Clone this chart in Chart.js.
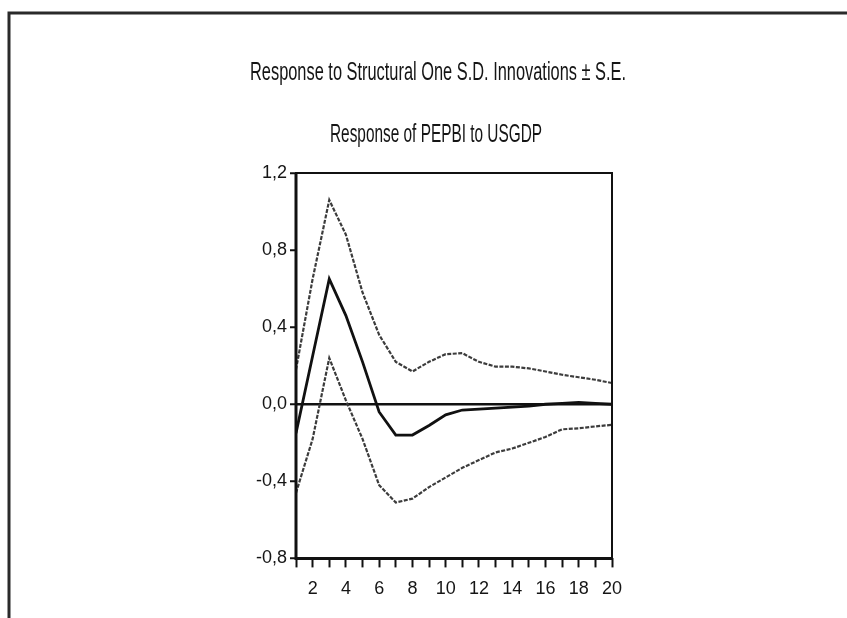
<!DOCTYPE html>
<html>
<head>
<meta charset="utf-8">
<script src="https://cdn.jsdelivr.net/npm/chart.js@4/dist/chart.umd.min.js"></script>
<style>
  html, body { margin: 0; padding: 0; background: #fff; }
  #wrap { width: 847px; height: 618px; }
</style>
</head>
<body>
<div id="wrap"><canvas id="irf"></canvas></div>
<script>
// Impulse response of PEPBI to a USGDP shock, with +/- 1 S.E. bands
const periods = [1, 2, 3, 4, 5, 6, 7, 8, 9, 10, 11, 12, 13, 14, 15, 16, 17, 18, 19, 20];
const response = [-0.15, 0.25, 0.65, 0.46, 0.22, -0.04, -0.16, -0.16, -0.11, -0.055, -0.03, -0.025, -0.02, -0.015, -0.01, 0.0, 0.005, 0.01, 0.005, 0.0];
const upperBand = [0.18, 0.65, 1.06, 0.88, 0.58, 0.36, 0.22, 0.17, 0.22, 0.26, 0.265, 0.22, 0.195, 0.195, 0.186, 0.17, 0.153, 0.14, 0.127, 0.11];
const lowerBand = [-0.46, -0.18, 0.24, 0.02, -0.18, -0.42, -0.51, -0.49, -0.43, -0.38, -0.33, -0.29, -0.25, -0.23, -0.20, -0.17, -0.13, -0.125, -0.115, -0.107];
const yTicks = [-0.8, -0.4, 0.0, 0.4, 0.8, 1.2];

const mainTitle = 'Response to Structural One S.D. Innovations \u00b1 S.E.';
const subTitle = 'Response of PEPBI to USGDP';

const FONT = "'Liberation Sans', Arial, sans-serif";
Chart.defaults.font.family = FONT;

const toPts = (vals) => periods.map((p, i) => ({ x: p, y: vals[i] }));

// page frame, the two headings (squeezed like the original) and the plot box
const framePlugin = {
    id: 'frame',
    beforeDraw(chart) {
        const c = chart.ctx;
        c.save();
        c.fillStyle = '#fff';
        c.fillRect(0, 0, chart.width, chart.height);
        c.strokeStyle = '#2a2a2a';
        c.lineWidth = 3;
        c.beginPath();
        c.moveTo(9, chart.height);
        c.lineTo(9, 13);
        c.lineTo(chart.width, 13);
        c.stroke();

        c.fillStyle = '#151515';
        c.font = '25px ' + FONT;
        c.textAlign = 'center';
        c.textBaseline = 'alphabetic';
        c.fillText(mainTitle, 438, 80, 376);
        c.fillText(subTitle, 436, 142, 212);
        c.restore();
    },
    afterDatasetsDraw(chart) {
        const a = chart.chartArea;
        const c = chart.ctx;
        c.save();
        c.strokeStyle = '#111';
        c.lineWidth = 2;
        c.strokeRect(a.left, a.top, a.right - a.left, a.bottom - a.top);
        c.lineWidth = 3;
        c.beginPath();
        c.moveTo(a.left, a.top);
        c.lineTo(a.left, a.bottom);
        c.lineTo(a.right, a.bottom);
        c.stroke();
        c.restore();
    }
};

const ctx = document.getElementById('irf').getContext('2d');
new Chart(ctx, {
    type: 'line',
    data: {
        datasets: [
            {
                label: 'Response',
                data: toPts(response),
                borderColor: '#111',
                borderWidth: 2.8,
                pointRadius: 0,
                tension: 0
            },
            {
                label: '+ S.E.',
                data: toPts(upperBand),
                borderColor: '#3c3c3c',
                borderWidth: 2.2,
                borderDash: [4, 1.5],
                pointRadius: 0,
                tension: 0
            },
            {
                label: '- S.E.',
                data: toPts(lowerBand),
                borderColor: '#3c3c3c',
                borderWidth: 2.2,
                borderDash: [4, 1.5],
                pointRadius: 0,
                tension: 0
            }
        ]
    },
    options: {
        responsive: true,
        maintainAspectRatio: false,
        animation: false,
        layout: {
            padding: { left: 251, right: 235, top: 173, bottom: 7 }
        },
        plugins: {
            legend: { display: false },
            tooltip: { enabled: false }
        },
        scales: {
            x: {
                type: 'linear',
                min: 1,
                max: 20,
                afterBuildTicks(scale) {
                    scale.ticks = periods.map(v => ({ value: v }));
                },
                ticks: {
                    autoSkip: false,
                    maxRotation: 0,
                    color: '#151515',
                    padding: 11,
                    font: { size: 18 },
                    callback: (v) => (v % 2 === 0 ? String(v) : '')
                },
                grid: {
                    color: 'rgba(0,0,0,0)',
                    tickColor: '#111',
                    tickLength: 9,
                    tickWidth: 2
                },
                border: { display: false }
            },
            y: {
                min: -0.8,
                max: 1.2,
                afterBuildTicks(scale) {
                    scale.ticks = yTicks.map(v => ({ value: v }));
                },
                afterFit(scale) {
                    scale.width = 45;
                },
                ticks: {
                    color: '#151515',
                    padding: 3,
                    font: { size: 18 },
                    callback: (v) => v.toFixed(1).replace('.', ',')
                },
                grid: {
                    color: (c) => (c.tick && Math.abs(c.tick.value) < 1e-9 ? '#111' : 'rgba(0,0,0,0)'),
                    lineWidth: 2.5,
                    tickColor: '#111',
                    tickLength: 6,
                    tickWidth: 2
                },
                border: { display: false }
            }
        }
    },
    plugins: [framePlugin]
});
</script>
</body>
</html>
